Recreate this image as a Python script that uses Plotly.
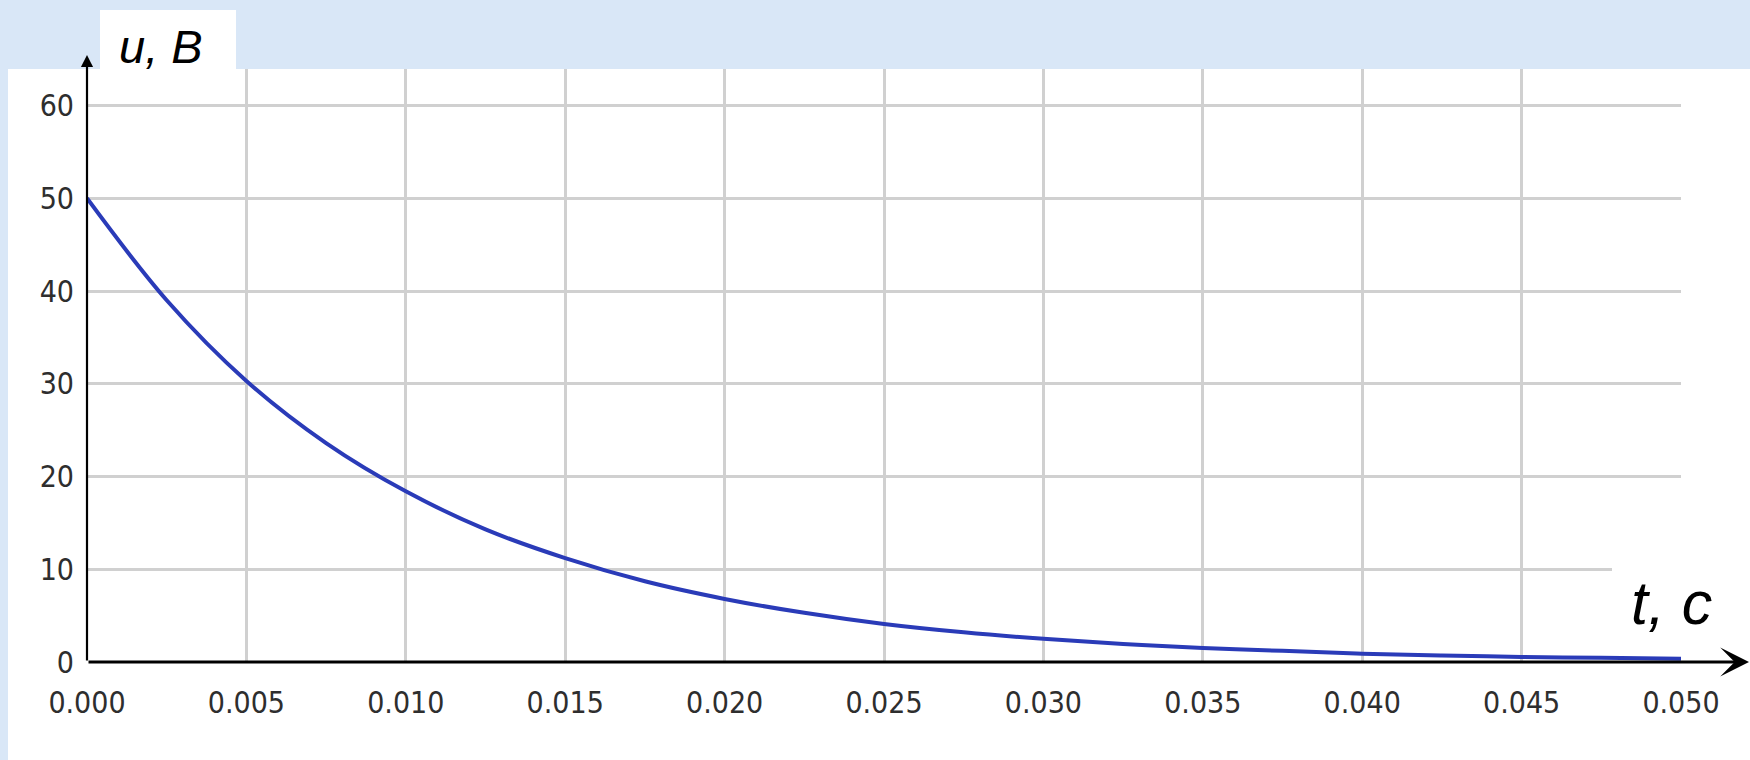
import plotly.graph_objects as go

# ---- data ----
t_values = [0.0, 0.0025, 0.005, 0.0075, 0.010, 0.0125, 0.015, 0.0175, 0.020, 0.0225,
            0.025, 0.0275, 0.030, 0.0325, 0.035, 0.0375, 0.040, 0.0425, 0.045, 0.0475, 0.050]
u_values = [50.0, 39.0, 30.3, 23.6, 18.4, 14.3, 11.2, 8.7, 6.8, 5.3,
            4.1, 3.2, 2.5, 1.95, 1.5, 1.2, 0.9, 0.7, 0.55, 0.45, 0.35]
x_tick_vals = [0.000, 0.005, 0.010, 0.015, 0.020, 0.025, 0.030, 0.035, 0.040, 0.045, 0.050]
y_tick_vals = [0, 10, 20, 30, 40, 50, 60]
y_label = "u, B"
x_label = "t, c"

# ---- layout geometry (pixels) ----
W, H = 1750, 760
PL, PR, PT, PB = 87, 1681, 69, 662   # plot area edges
Y_TOP = 60 + (105.5 - PT) / ((PB - 105.5) / 60)


def px(x):
    return (x - PL) / (PR - PL)


def py(y):
    return (PB - y) / (PB - PT)


fig = go.Figure()
fig.add_trace(go.Scatter(
    x=t_values, y=u_values, mode="lines",
    line=dict(color="#2a3bb8", width=4, shape="spline"),
    hoverinfo="skip", showlegend=False,
))

tick_font = dict(family="DejaVu Sans Condensed", size=30, color="#2e2e2e")
fig.update_xaxes(
    range=[0, 0.05], tickvals=x_tick_vals, tickformat=".3f",
    showgrid=True, gridcolor="#d0d0d0", gridwidth=2.5,
    zeroline=False, showline=False, ticks="", tickfont=tick_font,
    ticklabelstandoff=20, fixedrange=True,
)
fig.update_yaxes(
    range=[0, Y_TOP], tickvals=y_tick_vals,
    showgrid=True, gridcolor="#d0d0d0", gridwidth=2.5,
    zeroline=False, showline=False, ticks="", tickfont=tick_font,
    ticklabelstandoff=12, fixedrange=True,
)

shapes = [
    # white card
    dict(type="rect", xref="paper", yref="paper", x0=px(8), x1=px(W), y0=py(H), y1=py(PT),
         fillcolor="white", line=dict(width=0), layer="below"),
    # box for y label
    dict(type="rect", xref="paper", yref="paper", x0=px(100), x1=px(236), y0=py(69), y1=py(10),
         fillcolor="white", line=dict(width=0), layer="above"),
    # box for x label
    dict(type="rect", xref="paper", yref="paper", x0=px(1612), x1=px(W), y0=py(649), y1=py(554),
         fillcolor="white", line=dict(width=0), layer="above"),
]

annotations = [
    # x axis arrow
    dict(xref="paper", yref="paper", x=px(1749), y=0, ax=-(1749 - PL), ay=0,
         axref="pixel", ayref="pixel", text="", showarrow=True,
         arrowhead=3, arrowwidth=3, arrowsize=1.6, arrowcolor="black", standoff=0),
    # y axis arrow
    dict(xref="paper", yref="paper", x=0, y=py(55), ax=0, ay=(PB - 55),
         axref="pixel", ayref="pixel", text="", showarrow=True,
         arrowhead=2, arrowwidth=2.2, arrowsize=1.1, arrowcolor="black", standoff=0),
    # labels
    dict(xref="paper", yref="paper", x=px(117), y=py(46), xanchor="left", yanchor="middle",
         text="<i>" + y_label + "</i>", showarrow=False,
         font=dict(family="Liberation Sans", size=47, color="black")),
    dict(xref="paper", yref="paper", x=px(1629), y=py(603), xanchor="left", yanchor="middle",
         text="<i>" + x_label + "</i>", showarrow=False,
         font=dict(family="Liberation Sans", size=61, color="black")),
]

fig.update_layout(
    width=W, height=H,
    margin=dict(l=PL, r=W - PR, t=PT, b=H - PB, pad=0, autoexpand=False),
    paper_bgcolor="#d9e7f7", plot_bgcolor="white",
    shapes=shapes, annotations=annotations, showlegend=False,
)

fig.write_html(
    "out.html", config={"displayModeBar": False},
    post_script="document.body.style.margin='0';document.body.style.overflow='hidden';",
)
